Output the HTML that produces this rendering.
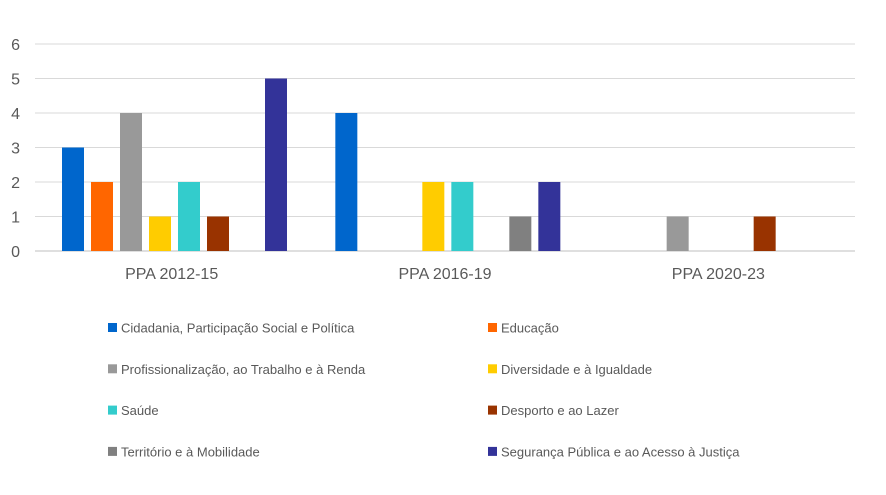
<!DOCTYPE html>
<html><head><meta charset="utf-8"><style>
body{margin:0;background:#fff;font-family:"Liberation Sans",sans-serif;}
</style></head><body>
<svg id="chart" width="886" height="490" xmlns="http://www.w3.org/2000/svg">
<g id="grid"></g><g id="bars"></g><g id="labels"></g><g id="legend"></g>
</svg>
<script>
const categories=["PPA 2012-15","PPA 2016-19","PPA 2020-23"];
const seriesNames=["Cidadania, Participação Social e Política","Educação","Profissionalização, ao Trabalho e à Renda","Diversidade e à Igualdade","Saúde","Desporto e ao Lazer","Território e à Mobilidade","Segurança Pública e ao Acesso à Justiça"];
const seriesColors=["#0066CC","#FF6600","#999999","#FFCC00","#33CCCC","#993300","#808080","#333399"];
const s0=[3,4,0];
const s1=[2,0,0];
const s2=[4,0,1];
const s3=[1,2,0];
const s4=[2,2,0];
const s5=[1,0,1];
const s6=[0,1,0];
const s7=[5,2,0];
const series=[s0,s1,s2,s3,s4,s5,s6,s7];
const yTicks=[0,1,2,3,4,5,6];
const NS="http://www.w3.org/2000/svg";
const x0=35,x1=855,yBase=251,unit=34.5;
const gw=(x1-x0)/categories.length;
function y(v){return yBase-v*unit;}
function bx(g,s){return x0+g*gw+27+s*29;}
function mk(t,a,p){const e=document.createElementNS(NS,t);for(const k in a)e.setAttribute(k,a[k]);p.appendChild(e);return e;}
const grid=document.getElementById('grid'),bars=document.getElementById('bars'),labels=document.getElementById('labels'),legend=document.getElementById('legend');
yTicks.forEach(t=>{
 const l=mk('line',{x1:x0,x2:x1,y1:y(t),y2:y(t),stroke:t===0?'#bfbfbf':'#d9d9d9','stroke-width':1},grid);
 
 
 const tx=mk('text',{x:20,y:y(t)+6,'text-anchor':'end','font-size':16,fill:'#595959'},labels);
 tx.textContent=t;
 
 
});
categories.forEach((c,g)=>{
 const tx=mk('text',{x:x0+g*gw+gw/2,y:y(0)+28,'text-anchor':'middle','font-size':16,fill:'#595959'},labels);
 tx.textContent=c;
 
 
 series.forEach((s,i)=>{
  if(!s[g])return;
  const r=mk('rect',{x:bx(g,i),y:y(s[g]),width:22,height:s[g]*unit,fill:seriesColors[i]},bars);
  
  
 });
});
seriesNames.forEach((n,i)=>{
 const col=i%2,row=Math.floor(i/2);
 const lx=col?488:108,ly=328+row*41.3;
 const g=mk('g',{},legend);
 
 
 mk('rect',{x:lx,y:ly-5,width:9,height:9,fill:seriesColors[i]},g);
 const t=mk('text',{x:lx+13,y:ly+4.5,'font-size':13,fill:'#595959'},g);
 t.textContent=n;
});
</script>
</body></html>
